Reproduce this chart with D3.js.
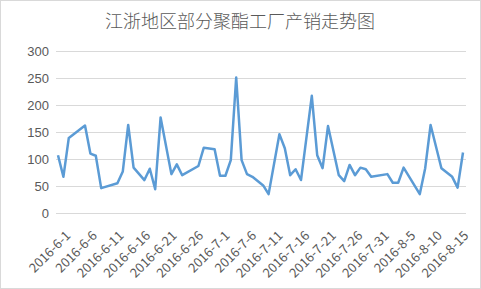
<!DOCTYPE html>
<html>
<head>
<meta charset="utf-8">
<script src="https://cdn.jsdelivr.net/npm/d3@7"></script>
<style>
  body { margin: 0; background: #fff; }
  svg { display: block; font-family: "Noto Sans CJK SC", "Noto Sans", sans-serif; }
  .grid line { stroke: #d9d9d9; stroke-width: 1; }
  .tick text { fill: #595959; font-size: 13px; }
</style>
</head>
<body>
<script>
var title = "江浙地区部分聚酯工厂产销走势图";

// days counted from 2016-6-1
var days = [0, 1, 2, 5, 6, 7, 8, 11, 12, 13, 14, 16, 17, 18, 19, 21, 22, 23, 26, 27, 29, 30, 31, 32, 33, 34, 35, 36, 38, 39,
            41, 42, 43, 44, 45, 47, 48, 49, 50, 52, 53, 54, 55, 56, 57, 58, 61, 62, 63, 64, 67, 68, 69, 71, 73, 74, 75];
var sales = [107, 67, 139, 162, 110, 106, 46, 55, 77, 163, 84, 61, 82, 44, 177, 72, 90, 70, 87, 121, 118, 69, 69, 98, 251, 98, 72, 67, 51, 35,
             146, 120, 70, 81, 61, 217, 107, 83, 161, 70, 59, 89, 70, 84, 81, 67, 72, 56, 56, 84, 35, 83, 163, 83, 67, 47, 112];
var yTicks = [0, 50, 100, 150, 200, 250, 300];
var xTickDays = [0, 5, 10, 15, 20, 25, 30, 35, 40, 45, 50, 55, 60, 65, 70, 75];

var width = 481, height = 289;

var start = new Date(2016, 5, 1);
function dayToDate(d) { return d3.timeDay.offset(start, d); }
var fmt = function(d) { return d.getFullYear() + "-" + (d.getMonth() + 1) + "-" + d.getDate(); };

var svg = d3.select("body").append("svg")
    .attr("width", width)
    .attr("height", height);

svg.append("rect")
  .attr("x", 0.5).attr("y", 0.5)
  .attr("width", width - 1).attr("height", height - 1)
  .attr("fill", "#fff")
  .attr("stroke", "#d9d9d9");

svg.append("text")
  .attr("x", 240)
  .attr("y", 28)
  .attr("text-anchor", "middle")
  .attr("fill", "#595959")
  .style("font-size", "18px")
  .style("font-weight", 300)
  .text(title);

var y = d3.scaleLinear().domain([0, 300]).range([213, 51]);
var x = d3.scaleTime().domain([dayToDate(0), dayToDate(75)]).range([58, 463]);
// excel packs the rotated labels a little tighter than the points
var xLabel = d3.scaleTime().domain([dayToDate(0), dayToDate(75)]).range([58, 456]);

// gridlines + y labels
var gy = svg.append("g")
  .attr("class", "grid")
  .attr("transform", "translate(56,0)")
  .call(d3.axisLeft(y).tickValues(yTicks).tickSize(-410));
gy.select(".domain").remove();
gy.selectAll(".tick text").attr("x", -7);

// x labels
var gx = svg.append("g");
gx.selectAll("text")
  .data(xTickDays)
  .enter().append("text")
  .attr("transform", function(d) { return "translate(" + (xLabel(dayToDate(d)) + 7) + ",230) rotate(-45)"; })
  .attr("text-anchor", "end")
  .attr("dy", "0.7em")
  .attr("fill", "#595959")
  .style("font-size", "13px")
  .text(function(d) { return fmt(dayToDate(d)); });

var line = d3.line()
  .x(function(d, i) { return x(dayToDate(days[i])); })
  .y(function(d) { return y(d); });

svg.append("path")
  .datum(sales)
  .attr("fill", "none")
  .attr("stroke", "#5b9bd5")
  .attr("stroke-width", 2.5)
  .attr("stroke-linejoin", "round")
  .attr("d", line);
</script>
</body>
</html>
